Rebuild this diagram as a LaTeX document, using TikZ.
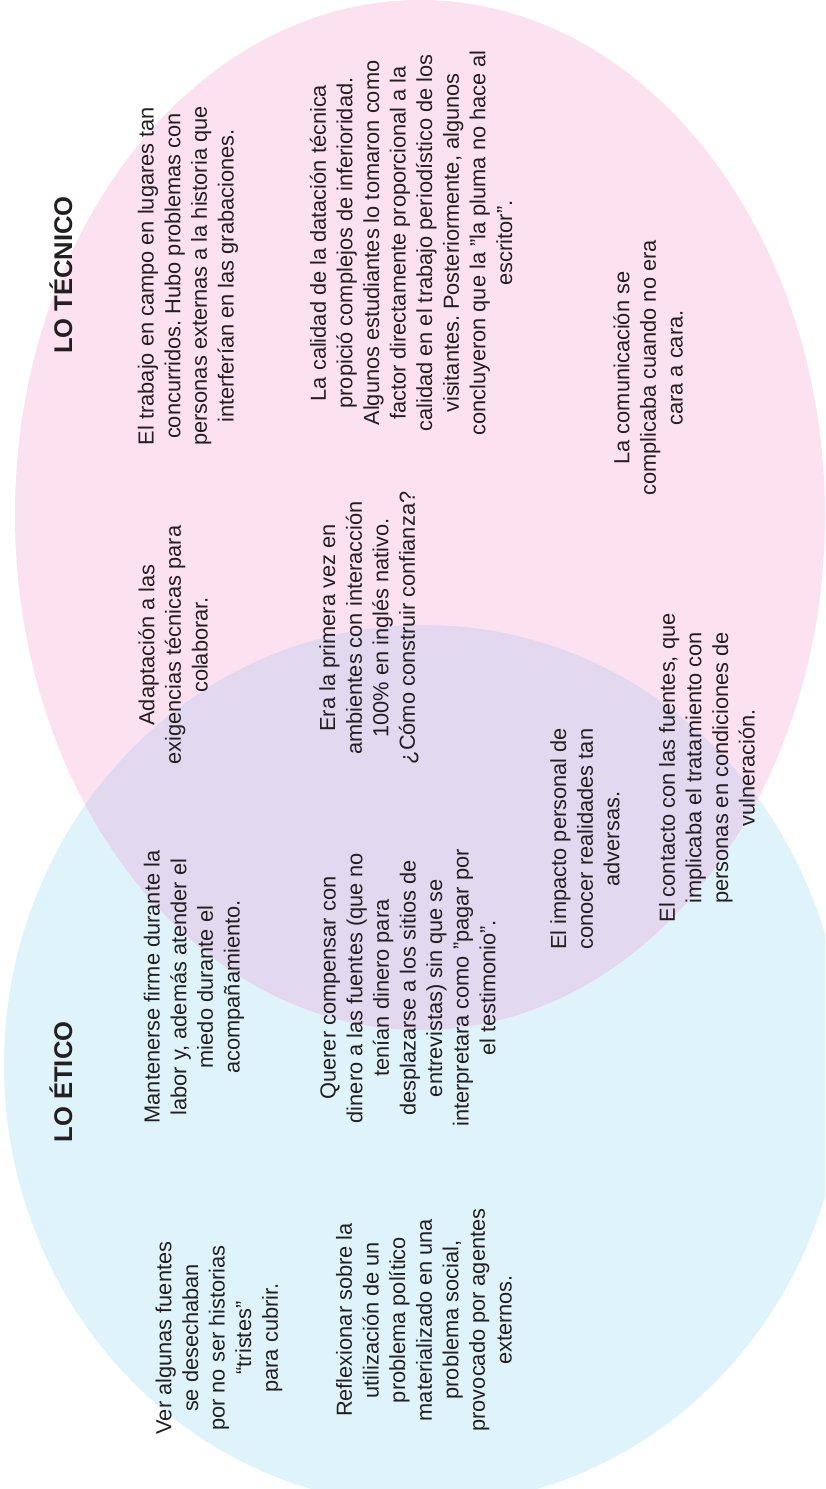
\documentclass[tikz,border=0pt]{standalone}
\usepackage{fontspec}
\setmainfont{Liberation Sans}
\frenchspacing
\definecolor{tecpink}{RGB}{252,225,240}
\definecolor{eticblue}{RGB}{223,243,251}
\definecolor{bothlilac}{RGB}{226,216,240}
\definecolor{inkgray}{RGB}{35,31,32}
\tikzset{
x=0.5pt, y=-0.5pt, % one unit is one pixel of the sketch, y runs downwards
every node/.style={text=inkgray, rotate=90}, % all texts read from bottom to top
note/.style={align=center, inner sep=0pt, font=\fontsize{10.9pt}{13.3pt}\selectfont}, % the remarks in the sets
heading/.style={inner sep=0pt, font=\fontsize{12.8pt}{15pt}\selectfont\bfseries}, % names of the two sets
}

\begin{document}
\begin{tikzpicture}
        \useasboundingbox (0,0) rectangle (825,1489);
        \clip (0,0) rectangle (825,1489);

        % The two sets and their overlap
        \fill[tecpink] (420,515) ellipse [x radius=405, y radius=515];
        \fill[eticblue] (424,1065) ellipse [x radius=420, y radius=440];
        \begin{scope}
            \clip (420,515) ellipse [x radius=405, y radius=515];
            \fill[bothlilac] (424,1065) ellipse [x radius=420, y radius=440];
        \end{scope}

        % Lo tecnico
        \node[heading] (tecnico) at (61,275) {LO TÉCNICO};
        \node[note] (campo) at (188,276) {El trabajo en campo en lugares tan\\concurridos. Hubo problemas con\\personas externas a la historia que\\interferían en las grabaciones.};
        \node[note] (calidad) at (411,243) {La calidad de la datación técnica\\propició complejos de inferioridad.\\Algunos estudiantes lo tomaron como\\factor directamente proporcional a la\\calidad en el trabajo periodístico de los\\visitantes. Posteriormente, algunos\\concluyeron que la "la pluma no hace al\\escritor".};
        \node[note] (comunicacion) at (648,368) {La comunicación se\\complicaba cuando no era\\cara a cara.};

        % Overlap
        \node[note] (adaptacion) at (173,645) {Adaptación a las\\exigencias técnicas para\\colaborar.};
        \node[note] (ingles) at (369,628) {Era la primera vez en\\ambientes con interacción\\100\% en inglés nativo.\\¿Cómo construir confianza?};
        \node[note] (impacto) at (585,839) {El impacto personal de\\conocer realidades tan\\adversas.};
        \node[note] (contacto) at (707,768) {El contacto con las fuentes, que\\implicaba el tratamiento con\\personas en condiciones de\\vulneración.};
        \node[note] (firme) at (194,987) {Mantenerse firme durante la\\labor y, además atender el\\miedo durante el\\acompañamiento.};
        \node[note] (dinero) at (408,988) {Querer compensar con\\dinero a las fuentes (que no\\tenían dinero para\\desplazarse a los sitios de\\entrevistas) sin que se\\interpretara como "pagar por\\el testimonio".};

        % Lo etico
        \node[heading] (etico) at (61,1082) {LO ÉTICO};
        \node[note] (tristes) at (219,1338) {Ver algunas fuentes\\se desechaban\\por no ser historias\\“tristes”\\para cubrir.};
        \node[note] (politico) at (424,1320) {Reflexionar sobre la\\utilización de un\\problema político\\materializado en una\\problema social,\\provocado por agentes\\externos.};
\end{tikzpicture}
\end{document}
